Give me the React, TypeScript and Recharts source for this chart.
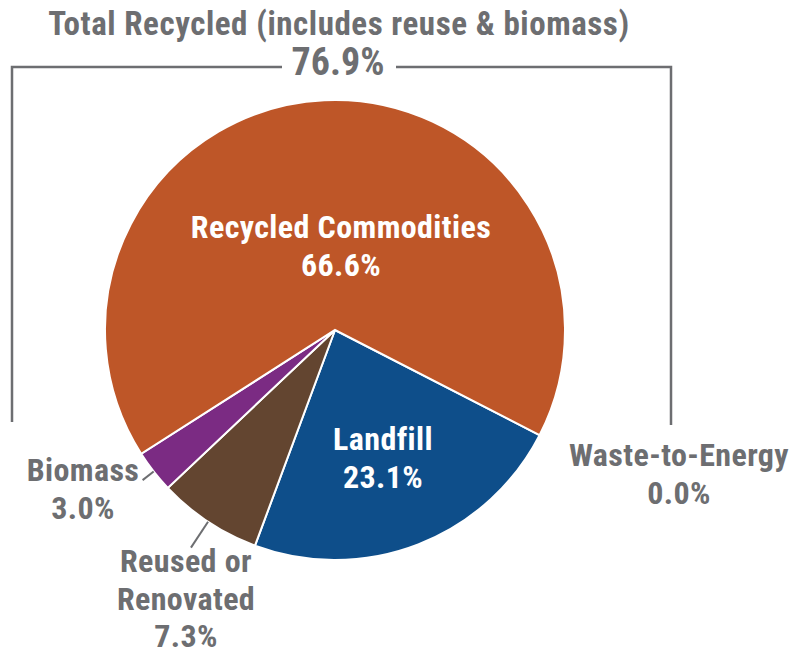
import React from 'react';
import { PieChart, Pie, Cell } from 'recharts';

// ---- data ----
const categories = ['Landfill', 'Reused or Renovated', 'Biomass', 'Recycled Commodities', 'Waste-to-Energy'];
const shares = [23.1, 7.3, 3.0, 66.6, 0.0];
const labelLines = [['Landfill'], ['Reused or', 'Renovated'], ['Biomass'], ['Recycled Commodities'], ['Waste-to-Energy']];
const totalRecycled = 76.9;
const titleText = 'Total Recycled (includes reuse & biomass)';

// ---- styles ----
const sliceColors = ['#0E4E8A', '#634530', '#7B2B83', '#BE5628', '#888888'];
const GRAY = '#6D6E71';
const FONT = "'Liberation Sans Narrow', 'Roboto Condensed', 'DejaVu Sans Condensed', Roboto, sans-serif";

const data = categories.map((name, i) => ({ name, value: shares[i] }));

const RAD = Math.PI / 180;

// label layout per slice: offset from pie centre, colour, leader line length
const labelLayout = [
  { dx: 48, dy: 120, color: '#FFFFFF', leader: 0 },
  { dx: -149, dy: 242, color: GRAY, leader: 31 },
  { dx: -252, dy: 151, color: GRAY, leader: 14 },
  { dx: 6, dy: -92, color: '#FFFFFF', leader: 0 },
  { dx: 344, dy: 136, color: GRAY, leader: 0 },
];
const LINE_H = 37.5;
const LABEL_SIZE = 32;

const renderLabel = (props: any) => {
  const { cx, cy, midAngle, outerRadius, index } = props;
  const lay = labelLayout[index];
  if (!lay) return null;
  const lines = [...labelLines[index], shares[index].toFixed(1) + '%'];
  const x = cx + lay.dx;
  const y0 = cy + lay.dy;
  let leader = null;
  if (lay.leader > 0) {
    const c = Math.cos(-midAngle * RAD);
    const s = Math.sin(-midAngle * RAD);
    leader = (
      <line
        x1={cx + outerRadius * c}
        y1={cy + outerRadius * s}
        x2={cx + (outerRadius + lay.leader) * c}
        y2={cy + (outerRadius + lay.leader) * s}
        stroke={GRAY}
        strokeWidth={2}
      />
    );
  }
  return (
    <g key={'lbl' + index}>
      {leader}
      {lines.map((t, i) => (
        <text
          key={i}
          x={x}
          y={y0 + i * LINE_H}
          textAnchor="middle"
          fill={lay.color}
          fontFamily={FONT}
          fontWeight="bold"
          fontSize={LABEL_SIZE}
          letterSpacing={0.4}
        >
          {t}
        </text>
      ))}
    </g>
  );
};

const START = -27.2;

export default function App() {
  return (
    <div style={{ position: 'absolute', left: 0, top: 0, width: 797, height: 654, background: '#fff' }}>
      <svg width={797} height={654} style={{ position: 'absolute', left: 0, top: 0 }}>
        <text x={339} y={35} textAnchor="middle" fill={GRAY} fontFamily={FONT} fontWeight="bold" fontSize={33} letterSpacing={0.55}>
          {titleText}
        </text>
        <text x={338} y={75} textAnchor="middle" fill={GRAY} fontFamily={FONT} fontWeight="bold" fontSize={38}>
          {totalRecycled.toFixed(1) + '%'}
        </text>
        <polyline points="12,422 12,67 282,67" fill="none" stroke={GRAY} strokeWidth={2.5} />
        <polyline points="396,67 671,67 671,425" fill="none" stroke={GRAY} strokeWidth={2.5} />
      </svg>
      <div style={{ position: 'absolute', left: 0, top: 0 }}>
        <PieChart width={797} height={654} margin={{ top: 0, right: 0, bottom: 0, left: 0 }}>
          <Pie
            data={data}
            dataKey="value"
            nameKey="name"
            cx={335}
            cy={330}
            innerRadius={0}
            outerRadius={230}
            startAngle={START}
            endAngle={START - 360}
            stroke="#FFFFFF"
            strokeWidth={2}
            label={renderLabel}
            labelLine={false}
            isAnimationActive={false}
          >
            {data.map((d, i) => (
              <Cell key={d.name} fill={sliceColors[i]} stroke={d.value > 0 ? '#FFFFFF' : 'none'} />
            ))}
          </Pie>
        </PieChart>
      </div>
    </div>
  );
}
